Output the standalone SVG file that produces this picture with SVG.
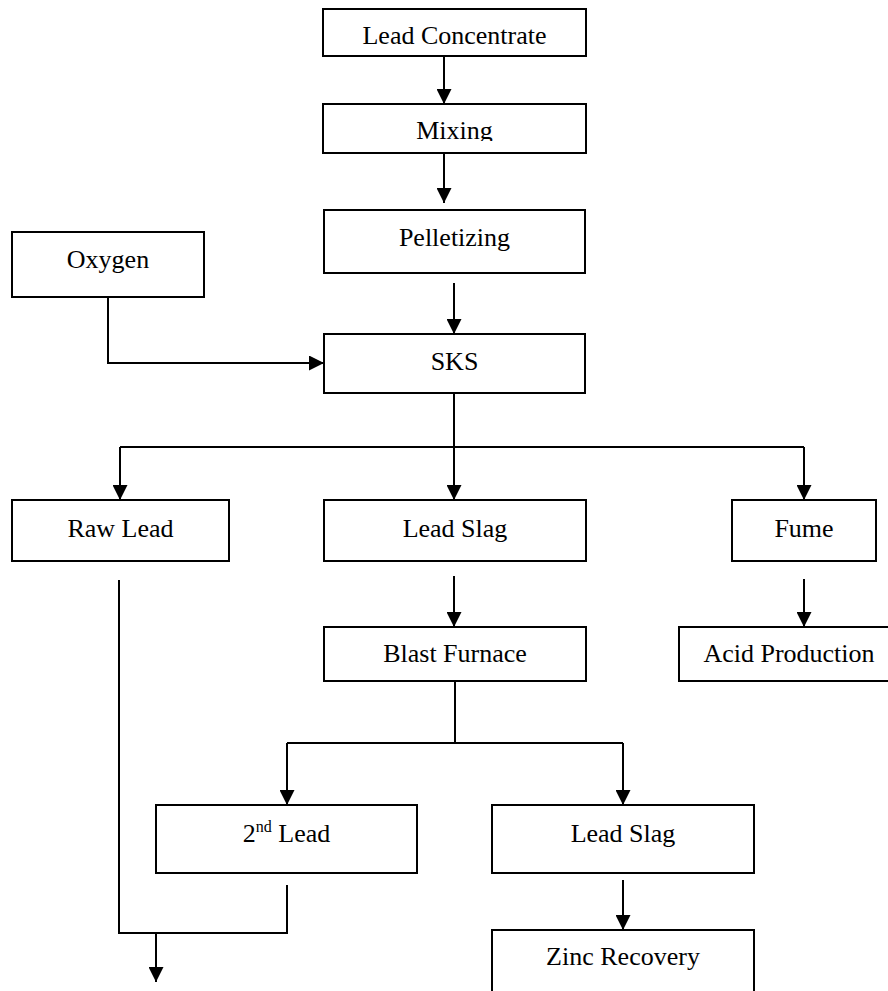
<svg xmlns="http://www.w3.org/2000/svg" width="888" height="991" viewBox="0 0 888 991">
<style>
.box{fill:#fff;stroke:#000;stroke-width:2}
.lbl{font-family:"Liberation Serif","Times New Roman",serif;font-size:26px;fill:#000;text-anchor:middle}
.con{fill:none;stroke:#000;stroke-width:2}
.arr{marker-end:url(#ah)}
</style>
<defs>
<marker id="ah" markerUnits="userSpaceOnUse" markerWidth="16" markerHeight="15" refX="15" refY="7.5" orient="auto" viewBox="0 0 16 15">
<path d="M0,0 L15,7.5 L0,15 z" fill="#000"/>
</marker>
<clipPath id="mixclip"><rect x="323" y="104" width="263" height="37"/></clipPath>
</defs>
<rect width="888" height="991" fill="#fff"/>
<g id="connectors">
<path class="con arr" d="M444,56 V104"/>
<path class="con arr" d="M444,153 V203"/>
<path class="con arr" d="M454,283 V334"/>
<path class="con arr" d="M108,297 V363 H324"/>
<path class="con arr" d="M454,393 V500"/>
<path class="con" d="M120,447 H804"/>
<path class="con arr" d="M120,447 V500"/>
<path class="con arr" d="M804,447 V500"/>
<path class="con arr" d="M454,576 V627"/>
<path class="con arr" d="M804,579 V627"/>
<path class="con" d="M455,681 V743"/>
<path class="con" d="M287,743 H623"/>
<path class="con arr" d="M287,743 V805"/>
<path class="con arr" d="M623,743 V805"/>
<path class="con arr" d="M623,880 V930"/>
<path class="con" d="M119,580 V933 H287 V885"/>
<path class="con arr" d="M156,933 V982"/>
</g>
<g id="lead-concentrate"><rect class="box" x="323" y="9" width="263" height="47"/><text class="lbl" x="454.5" y="44">Lead Concentrate</text></g>
<g id="mixing"><rect class="box" x="323" y="104" width="263" height="49"/><text class="lbl" x="454.5" y="139" clip-path="url(#mixclip)">Mixing</text></g>
<g id="pelletizing"><rect class="box" x="324" y="210" width="261" height="63"/><text class="lbl" x="454.5" y="246">Pelletizing</text></g>
<g id="oxygen"><rect class="box" x="12" y="232" width="192" height="65"/><text class="lbl" x="108" y="268">Oxygen</text></g>
<g id="sks"><rect class="box" x="324" y="334" width="261" height="59"/><text class="lbl" x="454.5" y="370">SKS</text></g>
<g id="raw-lead"><rect class="box" x="12" y="500" width="217" height="61"/><text class="lbl" x="120.5" y="537">Raw Lead</text></g>
<g id="lead-slag-1"><rect class="box" x="324" y="500" width="262" height="61"/><text class="lbl" x="455" y="537">Lead Slag</text></g>
<g id="fume"><rect class="box" x="732" y="500" width="144" height="61"/><text class="lbl" x="804" y="537">Fume</text></g>
<g id="blast-furnace"><rect class="box" x="324" y="627" width="262" height="54"/><text class="lbl" x="455" y="662">Blast Furnace</text></g>
<g id="acid-production"><rect class="box" x="679" y="627" width="230" height="54"/><text class="lbl" x="789" y="662">Acid Production</text></g>
<g id="second-lead"><rect class="box" x="156" y="805" width="261" height="68"/><text class="lbl" x="286.5" y="842">2<tspan font-size="16" dy="-10">nd</tspan><tspan dy="10"> Lead</tspan></text></g>
<g id="lead-slag-2"><rect class="box" x="492" y="805" width="262" height="68"/><text class="lbl" x="623" y="842">Lead Slag</text></g>
<g id="zinc-recovery"><rect class="box" x="492" y="930" width="262" height="80"/><text class="lbl" x="623" y="965">Zinc Recovery</text></g>
</svg>
